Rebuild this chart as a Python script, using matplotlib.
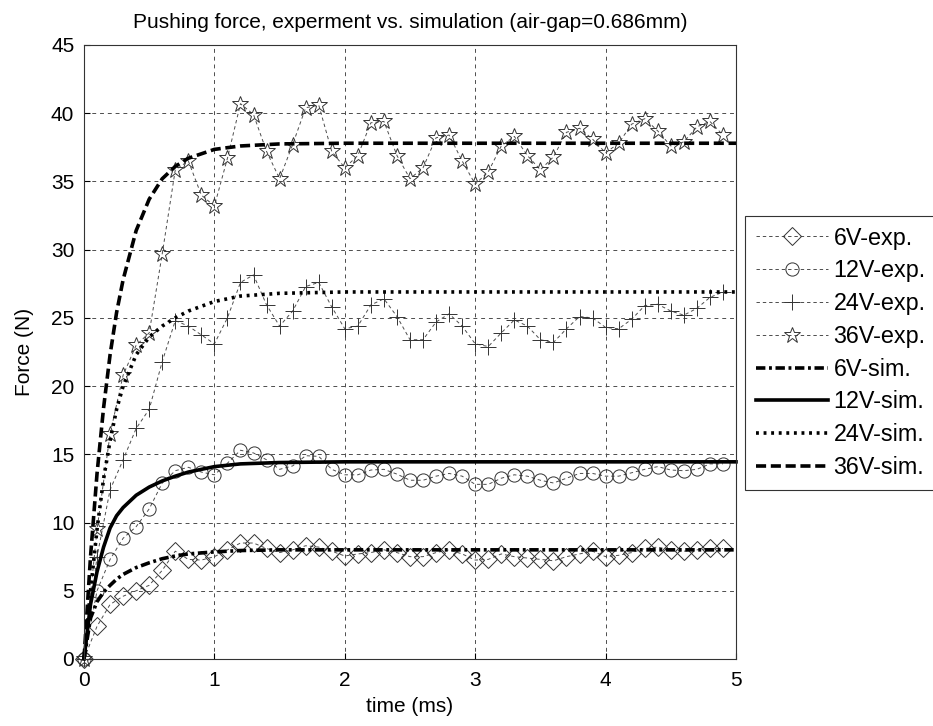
import numpy as np
import matplotlib
matplotlib.use("Agg")
import matplotlib.pyplot as plt

plt.rcParams['font.family'] = ['Liberation Sans', 'DejaVu Sans']

# ---------------- data ----------------
t_exp = np.round(np.arange(50) * 0.1, 1)

exp_6v = [0, 2.4, 4.0, 4.6, 5.0, 5.4, 6.5, 7.9, 7.3, 7.25,
          7.5, 8.0, 8.5, 8.5, 8.1, 7.8, 8.0, 8.3, 8.2, 7.9,
          7.55, 7.7, 7.8, 8.0, 7.8, 7.5, 7.5, 7.8, 8.0, 7.7,
          7.25, 7.3, 7.7, 7.5, 7.4, 7.3, 7.2, 7.5, 7.7, 7.9,
          7.5, 7.6, 7.8, 8.1, 8.2, 8.0, 7.9, 8.0, 8.1, 8.1]

exp_12v = [0, 5.0, 7.3, 8.85, 9.7, 11.0, 12.9, 13.8, 14.05, 13.7,
           13.5, 14.35, 15.3, 15.1, 14.6, 13.9, 14.15, 14.9, 14.85, 13.9,
           13.5, 13.5, 13.85, 13.9, 13.55, 13.1, 13.1, 13.4, 13.6, 13.4,
           12.8, 12.8, 13.25, 13.5, 13.4, 13.1, 12.9, 13.25, 13.6, 13.6,
           13.4, 13.4, 13.65, 13.9, 14.1, 13.85, 13.8, 13.9, 14.3, 14.3]

exp_24v = [0, 7.5, 12.4, 14.6, 16.9, 18.3, 21.8, 24.8, 24.4, 23.75,
           23.1, 25.0, 27.6, 28.15, 25.95, 24.4, 25.5, 27.3, 27.6, 25.8,
           24.2, 24.4, 25.95, 26.4, 25.1, 23.4, 23.4, 24.7, 25.3, 24.4,
           23.1, 22.9, 23.9, 24.85, 24.4, 23.4, 23.2, 24.2, 25.1, 25.0,
           24.3, 24.2, 24.9, 25.9, 26.0, 25.5, 25.2, 25.7, 26.5, 26.9]

exp_36v = [0, 9.5, 16.5, 20.8, 23.0, 23.9, 29.7, 35.85, 36.5, 34.0,
           33.2, 36.7, 40.7, 39.9, 37.2, 35.2, 37.7, 40.4, 40.6, 37.2,
           36.0, 36.9, 39.3, 39.4, 36.9, 35.2, 36.0, 38.2, 38.4, 36.5,
           34.8, 35.7, 37.6, 38.3, 36.9, 35.85, 36.8, 38.6, 38.9, 38.1,
           37.1, 37.8, 39.2, 39.6, 38.7, 37.6, 37.9, 39.0, 39.4, 38.4]

t_sim = [0, 0.05, 0.1, 0.15, 0.2, 0.25, 0.3, 0.4, 0.5, 0.6,
         0.7, 0.8, 1.0, 1.2, 1.5, 2.0, 3.0, 4.0, 5.0]
sim_6v = [0, 3.0, 4.2, 4.9, 5.4, 5.85, 6.2, 6.7, 7.05, 7.35,
          7.55, 7.7, 7.85, 7.95, 8.0, 8.0, 8.0, 8.0, 8.0]
sim_12v = [0, 4.0, 6.4, 8.2, 9.6, 10.5, 11.1, 12.0, 12.6, 13.05,
           13.4, 13.7, 14.1, 14.3, 14.4, 14.45, 14.45, 14.45, 14.45]
sim_24v = [0, 5.0, 9.5, 13.2, 16.0, 18.3, 20.0, 22.3, 23.6, 24.4,
           25.0, 25.5, 26.2, 26.6, 26.8, 26.9, 26.9, 26.9, 26.9]
sim_36v = [0, 7.5, 13.6, 18.4, 22.3, 25.4, 27.8, 31.4, 33.7, 35.2,
           36.1, 36.7, 37.35, 37.6, 37.75, 37.8, 37.8, 37.8, 37.8]

exp_labels = ['6V-exp.', '12V-exp.', '24V-exp.', '36V-exp.']
sim_labels = ['6V-sim.', '12V-sim.', '24V-sim.', '36V-sim.']
title = 'Pushing force, experment vs. simulation (air-gap=0.686mm)'

# ---------------- plot ----------------
FS = 15
fig = plt.figure(figsize=(9.33, 7.26), dpi=100)
ax = fig.add_axes([84 / 933, 67 / 726, 652 / 933, 614 / 726])

exp_style = dict(color='0.3', lw=0.7, ls=(0, (3.5, 3)), mfc='none',
                 mec='0.2', mew=0.7, clip_on=False)
ax.plot(t_exp, exp_6v, marker='D', ms=9, label=exp_labels[0], **exp_style)
ax.plot(t_exp, exp_12v, marker='o', ms=9.5, label=exp_labels[1], **exp_style)
ax.plot(t_exp, exp_24v, marker='+', ms=11, label=exp_labels[2], **exp_style)
ax.plot(t_exp, exp_36v, marker='*', ms=12, label=exp_labels[3], **exp_style)

sim_style = dict(color='black', lw=2.6, clip_on=False)
ax.plot(t_sim, sim_6v, ls=(0, (2.6, 1.0, 0.8, 1.0)), label=sim_labels[0], **sim_style)
ax.plot(t_sim, sim_12v, ls='-', label=sim_labels[1], **sim_style)
ax.plot(t_sim, sim_24v, ls=(0, (0.8, 1.3)), label=sim_labels[2], **sim_style)
ax.plot(t_sim, sim_36v, ls=(0, (2.8, 1.3)), label=sim_labels[3], **sim_style)

ax.set_xlim(0, 5)
ax.set_ylim(0, 45)
ax.set_xticks(range(0, 6))
ax.set_yticks(range(0, 50, 5))
ax.grid(True, color='0.3', ls=(0, (4, 4)), lw=0.7)
ax.tick_params(direction='in', length=4, labelsize=FS)
ax.tick_params(axis='x', pad=9)
ax.tick_params(axis='y', pad=7)
for s in ax.spines.values():
    s.set_linewidth(0.8)
    s.set_color('0.2')

ax.set_xlabel('time (ms)', fontsize=FS, labelpad=5)
ax.set_ylabel('Force (N)', fontsize=FS, labelpad=12)
ax.set_title(title, fontsize=FS, pad=12)

leg = fig.legend(loc='upper left', bbox_to_anchor=(745 / 933, 1 - 216 / 726),
                 bbox_transform=fig.transFigure, fontsize=16.8,
                 handlelength=3.1, labelspacing=0.42, handletextpad=0.25,
                 borderpad=0.45, borderaxespad=0, fancybox=False,
                 frameon=True, edgecolor='0.2', framealpha=1)
leg.get_frame().set_linewidth(0.8)

fig.savefig('out.png', dpi=100)
